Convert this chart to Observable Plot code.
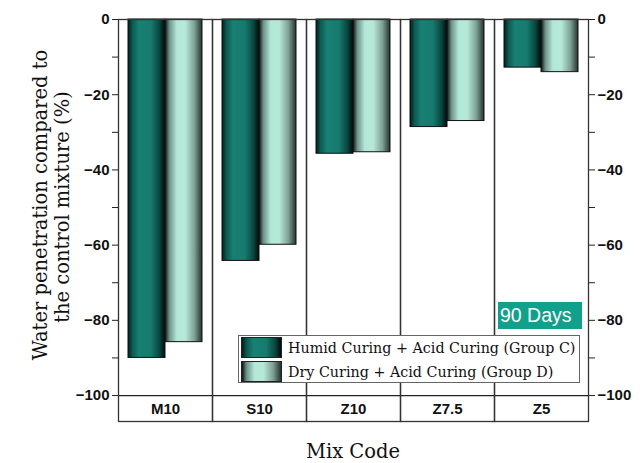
<!DOCTYPE html>
<html>
<head>
<meta charset="utf-8">
<script src="https://cdn.jsdelivr.net/npm/d3@7"></script>
<script src="https://cdn.jsdelivr.net/npm/@observablehq/plot@0.6"></script>
<style>
  html, body { margin: 0; padding: 0; background: #fff; }
  #wrap { position: relative; width: 642px; height: 463px; }
  #legend { position: absolute; left: 238px; top: 335px; width: 342px; height: 48px;
    border: 1px solid #666; background: #fff; box-sizing: border-box;
    font-family: "DejaVu Serif", serif; font-size: 14.3px; color: #111; }
  .row { position: absolute; left: 2px; height: 21px; display: flex; align-items: center; }
  .sw { width: 41px; height: 21px; border: 1px solid #222; box-sizing: border-box; margin-right: 6px; }
  #days { position: absolute; left: 498px; top: 302px; width: 84px; height: 27px;
    background: #10a08c; color: #fff; font-family: "Liberation Sans", Arial, sans-serif;
    font-size: 19.5px; line-height: 27px; padding-left: 2px; box-sizing: border-box; }
</style>
</head>
<body>
<div id="wrap"></div>
<script>
const mixes = ["M10", "S10", "Z10", "Z7.5", "Z5"];
const groupKeys = ["C", "D"];
const groupLabels = ["Humid Curing + Acid Curing (Group C)", "Dry Curing + Acid Curing (Group D)"];
const humid = [-90, -64.2, -35.7, -28.6, -12.8];
const dry = [-85.8, -59.9, -35.3, -27.0, -14.0];
const majorTicks = [0, -20, -40, -60, -80, -100];
const minorTicks = [-10, -30, -50, -70, -90];

const gradC = [["0%", "#021c19"], ["12%", "#0d5a50"], ["30%", "#198074"], ["62%", "#177a6e"], ["85%", "#0a463f"], ["100%", "#010a09"]];
const gradD = [["0%", "#0d1110"], ["12%", "#6e948a"], ["32%", "#b3e8d7"], ["55%", "#b5e8d8"], ["80%", "#7c9f93"], ["100%", "#25312d"]];

const rowsC = mixes.map((m, i) => ({mix: m, group: "C", value: humid[i]}));
const rowsD = mixes.map((m, i) => ({mix: m, group: "D", value: dry[i]}));

const sans = "Liberation Sans, Arial, sans-serif";

const chart = Plot.plot({
  width: 642,
  height: 463,
  marginLeft: 118,
  marginRight: 54,
  marginTop: 19,
  marginBottom: 42,
  style: {fontFamily: sans, background: "#fff"},
  fx: {domain: mixes, padding: 0, axis: null},
  x: {domain: groupKeys, paddingInner: 0, paddingOuter: 0.253, axis: null},
  y: {domain: [-106.9, 0], axis: null},
  marks: [
    Plot.barY(rowsC, {fx: "mix", x: "group", y: "value", fill: "url(#gradC)", stroke: "#111", strokeWidth: 1}),
    Plot.barY(rowsD, {fx: "mix", x: "group", y: "value", fill: "url(#gradD)", stroke: "#111", strokeWidth: 1}),
    Plot.ruleY([-100], {stroke: "#222", strokeWidth: 1.3}),
    Plot.frame({stroke: "#333", strokeWidth: 1.3}),
    Plot.text(mixes, {fx: d => d, y: -103.5, text: d => d, fontWeight: "bold", fontSize: 15, fill: "#111"}),
    Plot.axisY({ticks: majorTicks, anchor: "left", facetAnchor: "left", label: null, tickSize: 6, tickPadding: 3, fontSize: 15, fontWeight: "bold", stroke: "#222", color: "#111"}),
    Plot.axisY({ticks: minorTicks, anchor: "left", facetAnchor: "left", label: null, tickSize: 6, tickFormat: () => "", stroke: "#222"}),
    Plot.axisY({ticks: majorTicks, anchor: "right", facetAnchor: "right", label: null, tickSize: 6, tickPadding: 3, fontSize: 15, fontWeight: "bold", stroke: "#222", color: "#111"}),
    Plot.axisY({ticks: minorTicks, anchor: "right", facetAnchor: "right", label: null, tickSize: 6, tickFormat: () => "", stroke: "#222"})
  ]
});

const svg = d3.select(chart);
const defs = svg.insert("defs", ":first-child");
function addGrad(id, stops) {
  const g = defs.append("linearGradient").attr("id", id).attr("x1", "0").attr("x2", "1").attr("y1", "0").attr("y2", "0");
  stops.forEach(([o, c]) => g.append("stop").attr("offset", o).attr("stop-color", c));
}
addGrad("gradC", gradC);
addGrad("gradD", gradD);

const serif = "DejaVu Serif, serif";
const yTitle = svg.append("g").attr("font-family", serif).attr("font-size", 19.5).attr("fill", "#111").attr("text-anchor", "middle");
yTitle.append("text").attr("transform", "translate(47,205) rotate(-90)").text("Water penetration compared to");
yTitle.append("text").attr("transform", "translate(69,207) rotate(-90)").text("the control mixture (%)");
svg.append("text").attr("x", 353).attr("y", 458).attr("text-anchor", "middle").attr("font-family", serif).attr("font-size", 19.5).attr("fill", "#111").text("Mix Code");

const wrap = document.getElementById("wrap");
wrap.appendChild(chart);

function cssGrad(stops) { return "linear-gradient(to right, " + stops.map(([o, c]) => c + " " + o).join(", ") + ")"; }
const legend = document.createElement("div");
legend.id = "legend";
[gradC, gradD].forEach((g, i) => {
  const row = document.createElement("div");
  row.className = "row";
  row.style.top = (1 + i * 24) + "px";
  const sw = document.createElement("div");
  sw.className = "sw";
  sw.style.background = cssGrad(g);
  const lab = document.createElement("span");
  lab.textContent = groupLabels[i];
  row.appendChild(sw);
  row.appendChild(lab);
  legend.appendChild(row);
});
wrap.appendChild(legend);

const days = document.createElement("div");
days.id = "days";
days.textContent = "90 Days";
wrap.appendChild(days);
</script>
</body>
</html>
